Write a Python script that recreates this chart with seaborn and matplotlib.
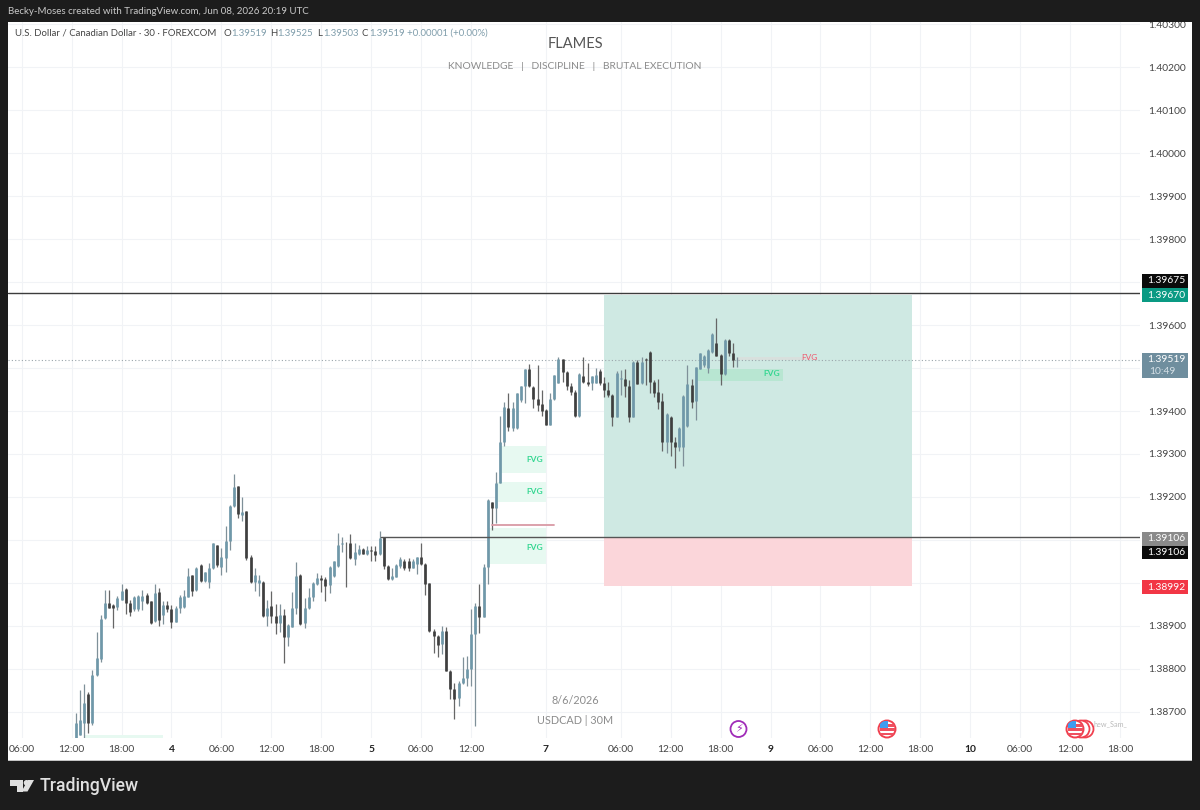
import numpy as np
import pandas as pd
import seaborn as sns
import matplotlib.pyplot as plt
from matplotlib.patches import Rectangle, Circle, Polygon

# USDCAD 30m candles, prices in 0.00001 units
highs = [138698, 138751, 138765, 138747, 138798, 138887, 138926, 138984, 138984, 138951,
         138970, 138997, 138988, 138960, 138970, 138972, 138984, 138976, 138959, 138997,
         138988, 138957, 138957, 138949, 138947, 138972, 138984, 139036, 139019, 139038,
         139044, 139026, 139046, 139092, 139088, 139081, 139133, 139181, 139253, 139226,
         139199, 139168, 139065, 139036, 139019, 139005, 138960, 138982, 138951, 138951,
         138939, 138905, 138978, 139048, 139021, 138964, 138988, 139003, 139024, 139019,
         139013, 139040, 139052, 139117, 139108, 139096, 139115, 139092, 139088, 139081,
         139086, 139086, 139085, 139122, 139108, 139042, 139034, 139044, 139060, 139055,
         139057, 139055, 139061, 139092, 139046, 139001, 138892, 138879, 138900, 138897,
         138798, 138767, 138771, 138827, 138830, 138939, 138953, 138998, 139044, 139195,
         139189, 139257, 139388, 139420, 139441, 139422, 139441, 139458, 139497, 139509,
         139457, 139507, 139449, 139404, 139441, 139484, 139525, 139522, 139494, 139464,
         139449, 139489, 139525, 139512, 139481, 139499, 139497, 139478, 139468, 139439,
         139492, 139495, 139497, 139471, 139517, 139519, 139525, 139523, 139540, 139471,
         139474, 139441, 139395, 139389, 139340, 139362, 139437, 139507, 139474, 139503,
         139536, 139530, 139544, 139581, 139616, 139533, 139567, 139567, 139559, 139525]
lows = [138639, 138647, 138639, 138650, 138670, 138784, 138817, 138916, 138941, 138896,
        138937, 138960, 138929, 138924, 138936, 138936, 138937, 138951, 138905, 138910,
        138900, 138905, 138933, 138896, 138909, 138931, 138943, 138967, 138970, 138982,
        139003, 139002, 138988, 139032, 139038, 139019, 139026, 139077, 139177, 139150,
        139144, 139054, 139001, 138982, 138970, 138922, 138900, 138908, 138881, 138885,
        138813, 138854, 138897, 138928, 138902, 138895, 138939, 138957, 138995, 138980,
        138957, 138976, 139013, 139038, 139071, 138990, 139055, 139042, 139065, 139067,
        139065, 139052, 139050, 139065, 139032, 139007, 139007, 139013, 139034, 139030,
        139029, 139034, 139022, 139042, 138971, 138887, 138838, 138829, 138836, 138796,
        138730, 138683, 138714, 138765, 138761, 138761, 138668, 138883, 138920, 138998,
        139123, 139139, 139233, 139319, 139354, 139354, 139357, 139422, 139419, 139455,
        139406, 139401, 139388, 139367, 139367, 139425, 139464, 139468, 139449, 139437,
        139385, 139385, 139464, 139457, 139449, 139464, 139460, 139433, 139433, 139364,
        139385, 139437, 139432, 139375, 139385, 139463, 139463, 139461, 139443, 139432,
        139404, 139306, 139302, 139296, 139267, 139308, 139271, 139362, 139406, 139378,
        139497, 139502, 139488, 139536, 139528, 139461, 139484, 139528, 139503, 139503]
opens = [138639, 138647, 138674, 138741, 138674, 138786, 138823, 138918, 138953, 138949,
         138945, 138960, 138985, 138954, 138939, 138939, 138957, 138972, 138957, 138912,
         138978, 138926, 138949, 138940, 138910, 138941, 138945, 138968, 139019, 138984,
         139042, 139005, 139003, 139034, 139088, 139038, 139057, 139098, 139179, 139226,
         139158, 139167, 139060, 139003, 139001, 139003, 138923, 138947, 138923, 138908,
         138926, 138875, 138898, 138941, 139019, 138906, 138941, 138968, 138998, 139011,
         139009, 138995, 139016, 139040, 139091, 139094, 139092, 139055, 139067, 139078,
         139067, 139077, 139075, 139067, 139106, 139040, 139009, 139015, 139040, 139052,
         139052, 139036, 139044, 139060, 139044, 138999, 138889, 138877, 138858, 138889,
         138796, 138753, 138732, 138767, 138778, 138799, 138881, 138947, 138920, 139038,
         139188, 139174, 139233, 139329, 139406, 139360, 139360, 139425, 139457, 139497,
         139455, 139427, 139416, 139402, 139367, 139427, 139466, 139522, 139491, 139457,
         139445, 139388, 139481, 139468, 139466, 139466, 139494, 139466, 139449, 139437,
         139387, 139474, 139474, 139457, 139387, 139515, 139464, 139520, 139538, 139468,
         139445, 139424, 139327, 139387, 139327, 139317, 139316, 139364, 139461, 139424,
         139497, 139507, 139499, 139538, 139557, 139530, 139486, 139565, 139534, 139519]
closes = [138674, 138682, 138720, 138674, 138786, 138825, 138916, 138954, 138943, 138941,
          138964, 138982, 138953, 138933, 138967, 138970, 138970, 138954, 138906, 138976,
          138914, 138949, 138939, 138910, 138941, 138967, 138970, 139016, 138982, 139036,
          139005, 139026, 139036, 139092, 139042, 139060, 139098, 139179, 139224, 139160,
          139166, 139057, 139003, 139019, 139007, 138923, 138941, 138923, 138908, 138926,
          138874, 138902, 138943, 139016, 138905, 138943, 138968, 139001, 139011, 139007,
          138993, 139038, 139050, 139088, 139094, 139092, 139057, 139071, 139078, 139067,
          139077, 139075, 139065, 139104, 139040, 139009, 139016, 139042, 139055, 139034,
          139034, 139052, 139060, 139044, 138998, 138889, 138877, 138856, 138889, 138796,
          138753, 138730, 138768, 138778, 138799, 138881, 138947, 138920, 139038, 139193,
          139174, 139233, 139329, 139410, 139362, 139406, 139441, 139457, 139497, 139457,
          139427, 139414, 139401, 139367, 139429, 139484, 139522, 139491, 139457, 139445,
          139388, 139487, 139468, 139463, 139481, 139484, 139466, 139449, 139437, 139387,
          139489, 139476, 139457, 139387, 139515, 139463, 139515, 139519, 139468, 139443,
          139422, 139329, 139393, 139327, 139316, 139360, 139435, 139463, 139422, 139502,
          139534, 139528, 139542, 139579, 139528, 139486, 139565, 139534, 139519, 139519]

# time axis, counted in 30m bars from the 12:00 tick
time_ticks = [-12, 0, 12, 24, 36, 48, 60, 72, 84, 96, 114, 132, 144, 156, 168,
              180, 192, 204, 216, 228, 240, 252]
time_labels = ['06:00', '12:00', '18:00', '4', '06:00', '12:00', '18:00', '5', '06:00', '12:00',
               '7', '06:00', '12:00', '18:00', '9', '06:00', '12:00', '18:00', '10',
               '06:00', '12:00', '18:00']
price_ticks = [1.387, 1.388, 1.389, 1.390, 1.391, 1.392, 1.393, 1.394, 1.395, 1.396,
               1.397, 1.398, 1.399, 1.400, 1.401, 1.402, 1.403]
hidden_prices = [1.390, 1.391, 1.395, 1.397]

target, stop, entry = 1.39670, 1.38992, 1.39106
upper_level = 1.39675
last_price = 1.39519
swept_level = 1.39134
# (first bar, last bar, low, high)
green_fvgs = [(103, 114, 1.39256, 1.39319), (102, 114, 1.39188, 1.39235),
              (100, 114, 1.39044, 1.39128), (3, 22, 1.38640, 1.38647)]

sns.set_theme(style='whitegrid', rc={'grid.color': '#f1f3f6', 'grid.linewidth': 0.8})
plt.rcParams['font.family'] = ['Lato', 'DejaVu Sans']

fig = plt.figure(figsize=(12, 8.1), dpi=100, facecolor='#1c1c1c')
fig.add_artist(Rectangle((8 / 1200, 1 - 760 / 810), 1184 / 1200, 738 / 810,
                         transform=fig.transFigure, facecolor='white', edgecolor='none', zorder=-5))
ax = fig.add_axes([8 / 1200, 1 - 738 / 810, 1132 / 1200, 716 / 810], facecolor='white')

bars = np.arange(1, len(highs) + 1)
candles = pd.DataFrame({'bar': bars, 'high': highs, 'low': lows, 'open': opens, 'close': closes})
candles[['high', 'low', 'open', 'close']] /= 1e5
candles['side'] = np.where(candles['close'] >= candles['open'], 'up', 'down')

wicks = candles.melt(id_vars=['bar', 'side'], value_vars=['high', 'low'], value_name='price')
bodies = candles.melt(id_vars=['bar', 'side'], value_vars=['open', 'close'], value_name='price')

# position box and FVG zones go under the candles
ax.fill_between([128, 202], entry, target, color='#cfe9e3', lw=0, zorder=1)
ax.fill_between([128, 202], stop, entry, color='#fbd6da', lw=0, zorder=1)
for start, end, low, high in green_fvgs:
    ax.fill_between([start, end], low, high, color='#e7f9f1', lw=0, zorder=1.2)
ax.fill_between([150, 171], 1.39470, 1.39498, color='#b8e6d2', lw=0, zorder=1.2)
ax.fill_between([160, 179], 1.39519, 1.39525, color='#f3c9cc', alpha=0.25, lw=0, zorder=1.2)

sns.lineplot(data=wicks, x='bar', y='price', units='bar', estimator=None, hue='side',
             palette={'up': '#7f9099', 'down': '#666666'}, linewidth=0.9, sort=False,
             legend=False, solid_capstyle='butt', zorder=3, ax=ax)
sns.lineplot(data=bodies, x='bar', y='price', units='bar', estimator=None, hue='side',
             palette={'up': '#6f98a9', 'down': '#3f3f3f'}, linewidth=1.95, sort=False,
             legend=False, solid_capstyle='butt', zorder=4, ax=ax)

ax.axhline(upper_level, color='#3c3c3c', lw=1, zorder=5)
ax.plot([74.4, 262], [entry, entry], color='#555555', lw=1, zorder=5)
ax.axhline(last_price, color='#9aa5aa', lw=0.8, ls=(0, (1, 2)), zorder=2)
ax.plot([101, 116], [swept_level, swept_level], color='#d99aa5', lw=1.3, zorder=5)

ax.set_xlim(-15.3, 256.8)
ax.set_ylim(1.386395, 1.403047)
ax.set_xticks(time_ticks)
ax.set_xticklabels(time_labels)
ax.set_yticks(price_ticks)
ax.set_yticklabels(['' if p in hidden_prices else f'{p:.5f}' for p in price_ticks])
ax.yaxis.tick_right()
ax.tick_params(axis='x', length=0, pad=5, labelsize=7.4, labelcolor='#444444')
ax.tick_params(axis='y', length=0, pad=6, labelsize=7.4, labelcolor='#444444')
ax.set_xlabel('')
ax.set_ylabel('')
ax.set_axisbelow(True)
for spine in ax.spines.values():
    spine.set_visible(False)
for label in ax.get_xticklabels():
    if label.get_text() in ('4', '5', '7', '9', '10'):
        label.set_color('#222222')
        label.set_fontweight('bold')

# overlay in pixel coordinates for the tags, header text and icons
ov = fig.add_axes([0, 0, 1, 1], zorder=10)
ov.set_xlim(0, 1200)
ov.set_ylim(810, 0)
ov.axis('off')
ov.patch.set_alpha(0)

ov.add_patch(Rectangle((0, 0), 1200, 22, color='#1c1c1c', lw=0))
ov.add_patch(Rectangle((8, 759.5), 1184, 1.2, color='#c4c4c4', lw=0))
ov.text(8, 12, 'Becky-Moses created with TradingView.com, Jun 08, 2026 20:19 UTC',
        color='#c9c9c9', fontsize=7.0, va='center')

ov.text(15, 33.5, 'U.S. Dollar / Canadian Dollar · 30 · FOREXCOM', color='#444444', fontsize=6.95, va='center')
header_parts = [('O', 223, '1.39519', 231), ('H', 270, '1.39525', 277),
                ('L', 317, '1.39503', 323), ('C', 362, '1.39519', 369)]
for letter, lx, value, vx in header_parts:
    ov.text(lx, 33.5, letter, color='#444444', fontsize=6.95, va='center')
    ov.text(vx, 33.5, value, color='#7f9dab', fontsize=6.95, va='center')
ov.text(407, 33.5, '+0.00001 (+0.00%)', color='#7f9dab', fontsize=6.95, va='center')

ov.text(575, 44, 'FLAMES', color='#555555', fontsize=10.5, ha='center', va='center')
ov.text(575, 66.5, 'KNOWLEDGE   |   DISCIPLINE   |   BRUTAL EXECUTION', color='#8c8c8c',
        fontsize=7.4, ha='center', va='center')
ov.text(575, 701, '8/6/2026', color='#8c8c8c', fontsize=7.8, ha='center', va='center')
ov.text(575, 720, 'USDCAD | 30M', color='#8c8c8c', fontsize=7.8, ha='center', va='center')

for fx, fy in [(535, 459), (535, 491), (535, 547), (772, 374)]:
    ov.text(fx, fy, 'FVG', color='#35d792', fontsize=6, fontweight='bold', ha='center', va='center')
ov.text(809, 357, 'FVG', color='#ee5c70', fontsize=6, ha='center', va='center')

# price tags on the right axis
tags = [(273.5, 14.5, '#0b0b0b', '1.39675', 'white'), (288, 14, '#0a9a83', '1.39670', 'white'),
        (532, 13.5, '#8a8a8a', '1.39106', 'white'), (545.5, 13.5, '#0b0b0b', '1.39106', 'white'),
        (580, 14, '#f23645', '1.38992', 'white')]
for top, height, face, value, tcolor in tags:
    ov.add_patch(Rectangle((1142, top), 46, height, color=face, lw=0))
    ov.text(1166, top + height / 2, value, color=tcolor, fontsize=7.4, ha='center', va='center')
ov.add_patch(Rectangle((1142, 353), 46, 25, color='#6f8e9e', lw=0))
ov.text(1166, 360, '1.39519', color='white', fontsize=7.4, ha='center', va='center')
ov.text(1149, 371, '10:49', color='#d5e0e6', fontsize=7.4, ha='left', va='center')

# calendar event icons
ov.add_patch(Circle((738.5, 729), 8, facecolor='white', edgecolor='#a02cb8', lw=1.3))
ov.text(738.5, 729, '⚡', color='#a02cb8', fontsize=8, ha='center', va='center', family='DejaVu Sans')


def flag(cx, cy):
    disc = Circle((cx, cy), 8.5, facecolor='white', edgecolor='#f0404f', lw=1.4, zorder=3)
    ov.add_patch(disc)
    for top, height, face in [(cy - 8, 7, '#3f9cf0'), (cy - 1, 2.5, '#ef5060'), (cy + 3.5, 2.5, '#ef5060')]:
        stripe = Rectangle((cx - 7.5, top), 15 if face != '#3f9cf0' else 8, height, color=face, lw=0, zorder=3.1)
        ov.add_patch(stripe)
        stripe.set_clip_path(disc)
    red = Rectangle((cx + 0.5, cy - 5), 7, 2.5, color='#ef5060', lw=0, zorder=3.1)
    ov.add_patch(red)
    red.set_clip_path(disc)


ov.add_patch(Circle((1085, 729), 8.5, facecolor='white', edgecolor='#f0404f', lw=1.3, zorder=2))
ov.add_patch(Circle((1081, 729), 8.5, facecolor='white', edgecolor='#f0404f', lw=1.3, zorder=2))
flag(887, 729)
flag(1075, 729)
ov.text(1093, 724, 'hew_Sam_', color='#b9b9b9', fontsize=5.2, va='center')

# footer logo
logo = '#e0e0e0'
ov.add_patch(Polygon([(9.5, 780), (23, 780), (23, 791.5), (17, 791.5), (17, 785.5), (9.5, 785.5)], color=logo, lw=0))
ov.add_patch(Circle((26.5, 782.8), 2.8, color=logo, lw=0))
ov.add_patch(Polygon([(34, 780), (27.5, 791.5), (21.5, 791.5), (28, 780)], color=logo, lw=0))
ov.text(40, 786, 'TradingView', color=logo, fontsize=12.7, fontweight='medium', va='center',
        family=['Roboto', 'DejaVu Sans'])

fig.savefig('out.png', dpi=100, facecolor=fig.get_facecolor())
